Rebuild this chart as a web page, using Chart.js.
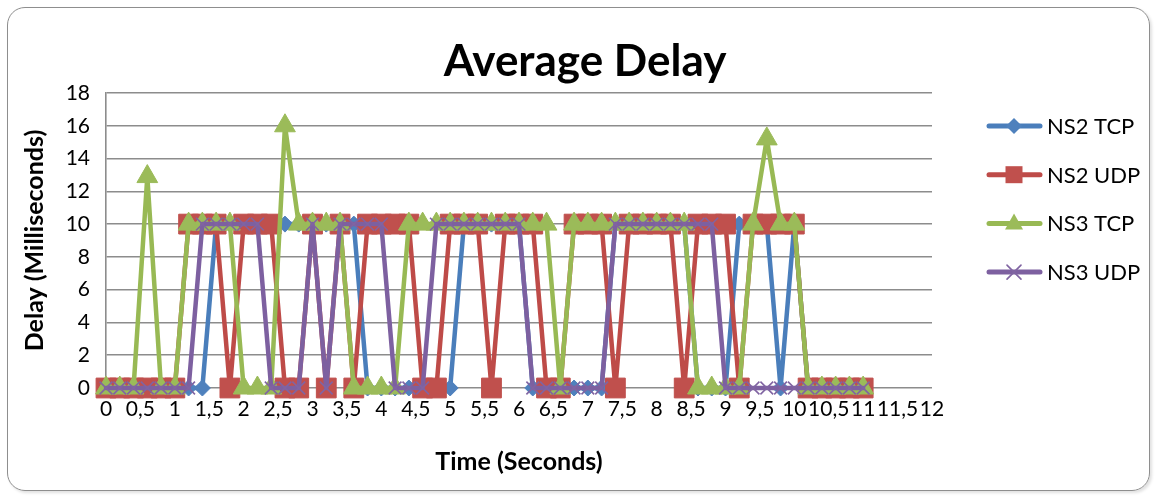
<!DOCTYPE html>
<html>
<head>
<meta charset="utf-8">
<title>Average Delay</title>
<script src="https://cdn.jsdelivr.net/npm/chart.js@4.4.1/dist/chart.umd.min.js"></script>
<style>
  html, body { margin: 0; padding: 0; background: #fff; }
  #wrap { position: relative; width: 1158px; height: 499px; overflow: hidden; }
  #frame {
    position: absolute; left: 7px; top: 7px; width: 1141px; height: 482px;
    border: 1.5px solid #8e8e8e; border-radius: 18px;
    box-shadow: 2px 2px 3px rgba(0, 0, 0, 0.12);
  }
  #chart { position: absolute; left: 0; top: 0; }
</style>
</head>
<body>
<div id="wrap">
  <div id="frame"></div>
  <canvas id="chart" width="1158" height="499"></canvas>
</div>
<script>
'use strict';

// time of each sample (seconds)
const timeSec = [0, 0.2, 0.4, 0.6, 0.8, 1, 1.2, 1.4, 1.6, 1.8, 2, 2.2, 2.4, 2.6, 2.8, 3, 3.2, 3.4, 3.6, 3.8,
    4, 4.2, 4.4, 4.6, 4.8, 5, 5.2, 5.4, 5.6, 5.8, 6, 6.2, 6.4, 6.6, 6.8, 7, 7.2, 7.4, 7.6, 7.8,
    8, 8.2, 8.4, 8.6, 8.8, 9, 9.2, 9.4, 9.6, 9.8, 10, 10.2, 10.4, 10.6, 10.8, 11];

// delay in milliseconds
const ns2Tcp = [0, 0, 0, 0, 0, 0, 0, 0, 10, 10, 10, 10, 10, 10, 10, 10, 10, 10, 10, 0,
    0, 0, 0, 0, 0, 0, 10, 10, 10, 10, 10, 0, 0, 0, 0, 0, 0, 10, 10, 10,
    10, 10, 10, 0, 0, 0, 10, 10, 10, 0, 10, 0, 0, 0, 0, 0];
const ns2Udp = [0, 0, 0, 0, 0, 0, 10, 10, 10, 0, 10, 10, 10, 0, 0, 10, 0, 10, 0, 10,
    10, 10, 10, 0, 0, 10, 10, 10, 0, 10, 10, 10, 0, 0, 10, 10, 10, 0, 10, 10,
    10, 10, 0, 10, 10, 10, 0, 10, 10, 10, 10, 0, 0, 0, 0, 0];
const ns3Tcp = [0, 0, 0, 12.9, 0, 0, 10, 10, 10, 10, 0, 0, 0, 16, 10, 10, 10, 10, 0, 0,
    0, 0, 10, 10, 10, 10, 10, 10, 10, 10, 10, 10, 10, 0, 10, 10, 10, 10, 10, 10,
    10, 10, 10, 0, 0, 0, 0, 10, 15.2, 10, 10, 0, 0, 0, 0, 0];
const ns3Udp = [0, 0, 0, 0, 0, 0, 0, 10, 10, 10, 10, 10, 0, 0, 0, 10, 0, 10, 10, 10,
    10, 0, 0, 0, 10, 10, 10, 10, 10, 10, 10, 0, 0, 0, 0, 0, 0, 10, 10, 10,
    10, 10, 10, 10, 10, 0, 0, 0, 0, 0, 0, 0, 0, 0, 0, 0];

const seriesNames = ['NS2 TCP', 'NS2 UDP', 'NS3 TCP', 'NS3 UDP'];
const chartTitle = 'Average Delay';

const FONT = 'Lato';

function toPoints(values) {
    return timeSec.map((t, i) => ({ x: t, y: values[i] }));
}

function makeDataset(label, values, line, fill, style, radius, order, pointBorder) {
    return {
        label: label,
        data: toPoints(values),
        borderColor: line,
        backgroundColor: fill,
        borderWidth: 4.5,
        borderJoinStyle: 'round',
        borderCapStyle: 'round',
        pointStyle: style,
        pointRadius: radius,
        pointBackgroundColor: fill,
        pointBorderColor: fill,
        pointBorderWidth: pointBorder,
        tension: 0,
        clip: false,
        order: order
    };
}

// draws the marker used next to the legend text
function drawMarker(ctx, style, x, y, color) {
    ctx.fillStyle = color;
    ctx.strokeStyle = color;
    ctx.beginPath();
    if (style === 'rectRot') {
        ctx.moveTo(x - 8, y); ctx.lineTo(x, y - 8); ctx.lineTo(x + 8, y); ctx.lineTo(x, y + 8);
        ctx.closePath(); ctx.fill();
    } else if (style === 'rect') {
        ctx.rect(x - 8.5, y - 8.5, 17, 17); ctx.fill();
    } else if (style === 'triangle') {
        ctx.moveTo(x, y - 10); ctx.lineTo(x + 9, y + 6); ctx.lineTo(x - 9, y + 6);
        ctx.closePath(); ctx.fill();
    } else {
        ctx.lineWidth = 1.6;
        ctx.moveTo(x - 7, y - 7); ctx.lineTo(x + 7, y + 7);
        ctx.moveTo(x + 7, y - 7); ctx.lineTo(x - 7, y + 7);
        ctx.stroke();
    }
}

// title centred over the whole chart, legend on the right
const sideLegend = {
    id: 'sideLegend',
    afterDraw(chart) {
        const ctx = chart.ctx;
        ctx.save();
        ctx.fillStyle = '#000';
        ctx.font = 'bold 44px ' + FONT;
        ctx.textAlign = 'center';
        ctx.textBaseline = 'middle';
        ctx.fillText(chartTitle, 585, 62);
        ctx.restore();

        chart.data.datasets.forEach((ds, i) => {
            const y = 126 + i * 48.7;
            ctx.save();
            ctx.strokeStyle = ds.borderColor;
            ctx.lineWidth = 5;
            ctx.lineCap = 'round';
            ctx.beginPath();
            ctx.moveTo(989, y);
            ctx.lineTo(1040, y);
            ctx.stroke();
            drawMarker(ctx, ds.pointStyle, 1014, y, ds.backgroundColor);
            ctx.fillStyle = '#000';
            ctx.font = '22px ' + FONT;
            ctx.textBaseline = 'middle';
            ctx.fillText(ds.label, 1047, y + 1);
            ctx.restore();
        });
    }
};

function drawChart() {
    const ctx = document.getElementById('chart').getContext('2d');
    new Chart(ctx, {
        type: 'line',
        data: {
            datasets: [
                makeDataset(seriesNames[0], ns2Tcp, '#4A7EBB', '#4F81BD', 'rectRot', 8, 4, 1),
                makeDataset(seriesNames[1], ns2Udp, '#BE4B48', '#C0504D', 'rect', 14, 3, 1),
                makeDataset(seriesNames[2], ns3Tcp, '#98B954', '#9BBB59', 'triangle', 12, 2, 1),
                makeDataset(seriesNames[3], ns3Udp, '#7D60A0', '#8064A2', 'crossRot', 9, 1, 1.6)
            ]
        },
        options: {
            responsive: false,
            animation: false,
            events: [],
            layout: {
                padding: { left: 10, right: 226, top: 93, bottom: 10 }
            },
            plugins: {
                legend: { display: false },
                tooltip: { enabled: false },
                title: { display: false }
            },
            scales: {
                x: {
                    type: 'linear',
                    min: 0,
                    max: 12,
                    afterFit: function(scale) { scale.height = 101; },
                    grid: { display: false, drawTicks: false },
                    border: { display: false },
                    ticks: {
                        stepSize: 0.5,
                        maxTicksLimit: 30,
                        autoSkip: false,
                        maxRotation: 0,
                        minRotation: 0,
                        padding: 9,
                        color: '#000',
                        font: { family: FONT, size: 21 },
                        callback: value => String(value).replace('.', ',')
                    },
                    title: {
                        display: true,
                        text: 'Time (Seconds)',
                        color: '#000',
                        font: { family: FONT, size: 25, weight: 'bold' },
                        padding: { top: 0, bottom: 12 }
                    }
                },
                y: {
                    min: 0,
                    max: 18,
                    afterFit: function(scale) { scale.width = 96; },
                    grid: { color: '#8c8c8c', lineWidth: 1.6, drawTicks: false },
                    border: { display: true, color: '#8c8c8c', width: 1.6 },
                    ticks: {
                        stepSize: 2,
                        padding: 16,
                        color: '#000',
                        font: { family: FONT, size: 21 }
                    },
                    title: {
                        display: true,
                        text: 'Delay (Milliseconds)',
                        color: '#000',
                        font: { family: FONT, size: 25, weight: 'bold' },
                        padding: { top: 10, bottom: 0 }
                    }
                }
            }
        },
        plugins: [sideLegend]
    });
}

Promise.all([
    document.fonts.load('bold 44px ' + FONT),
    document.fonts.load('21px ' + FONT)
]).then(drawChart, drawChart);
</script>
</body>
</html>
